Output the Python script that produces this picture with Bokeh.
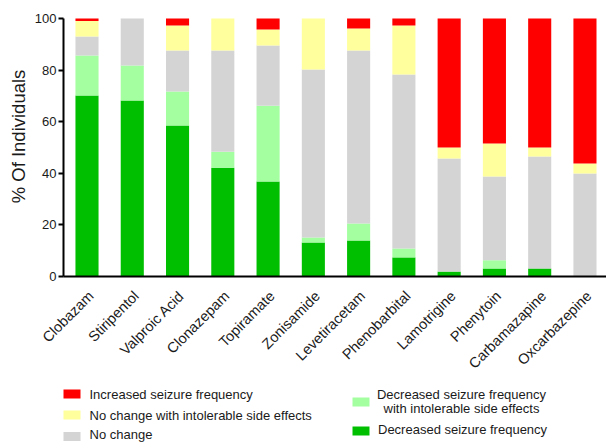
import math
from bokeh.plotting import figure
from bokeh.models import Range1d, FixedTicker, ColumnDataSource
from bokeh.embed import file_html
from bokeh.resources import INLINE
from bokeh.core.properties import value

drugs = ["Clobazam", "Stiripentol", "Valproic Acid", "Clonazepam", "Topiramate",
         "Zonisamide", "Levetiracetam", "Phenobarbital", "Lamotrigine", "Phenytoin",
         "Carbamazapine", "Oxcarbazepine"]
decreased = [70.2, 68.2, 58.5, 42.2, 36.8, 13.2, 14.0, 7.4, 1.9, 3.1, 3.1, 0.0]
decreased_side = [15.5, 13.6, 13.2, 6.2, 29.4, 1.9, 6.5, 3.5, 0.0, 3.2, 0.0, 0.0]
no_change = [7.3, 18.2, 15.9, 39.2, 23.3, 65.1, 67.1, 67.4, 43.8, 32.5, 43.4, 39.9]
no_change_side = [6.0, 0.0, 9.7, 12.4, 6.2, 19.8, 8.5, 19.0, 4.3, 12.8, 3.5, 3.9]
increased = [1.0, 0.0, 2.7, 0.0, 4.3, 0.0, 3.9, 2.7, 50.0, 48.4, 50.0, 56.2]
y_ticks = [0, 20, 40, 60, 80, 100]
y_title = "% Of Individuals"

series = ["decreased", "decreased_side", "no_change", "no_change_side", "increased"]
colors = ["#00BE00", "#A3FFA0", "#D4D4D4", "#FFFF9E", "#FF0000"]
labels = ["Decreased seizure frequency",
          "Decreased seizure frequency\nwith intolerable side effects",
          "No change", "No change with intolerable side effects",
          "Increased seizure frequency"]

xs = list(range(1, len(drugs) + 1))
src = ColumnDataSource(dict(x=xs, decreased=decreased, decreased_side=decreased_side,
                            no_change=no_change, no_change_side=no_change_side,
                            increased=increased))

FONT = "Liberation Sans"
TXT = "#1a1a1a"

# The frame fills the whole canvas; the value axes are drawn at fixed positions.
# data x=1 -> px 86.5, 45.27 px per category; y: 0 -> px 276, 100 -> px 18
X0, X1 = -0.9108, 12.4757
Y0, Y1 = -64.34, 106.98
XL = 0.4809   # left edge of the value area

p = figure(width=606, height=442, output_backend="svg", toolbar_location=None,
           x_range=Range1d(X0, X1), y_range=Range1d(Y0, Y1),
           min_border_left=0, min_border_right=0, min_border_top=0, min_border_bottom=0)
p.extra_x_ranges = {"px": Range1d(0, 606)}
p.extra_y_ranges = {"px": Range1d(442, 0)}
p.outline_line_color = None
p.xgrid.grid_line_color = None
p.ygrid.grid_line_color = None

p.vbar_stack(series, x="x", width=0.51, source=src, color=colors, line_color=None)

p.yaxis.fixed_location = XL
p.yaxis.bounds = (0, 100)
p.yaxis.ticker = FixedTicker(ticks=y_ticks)
p.yaxis.minor_tick_line_color = None
p.yaxis.major_tick_in = 0
p.yaxis.major_tick_out = 5
p.yaxis.axis_line_width = 2
p.yaxis.major_tick_line_width = 2
p.yaxis.axis_line_color = "black"
p.yaxis.major_tick_line_color = "black"
p.yaxis.major_label_text_font = FONT
p.yaxis.major_label_text_font_size = "13px"
p.yaxis.major_label_text_color = TXT
p.yaxis.major_label_standoff = 2

p.xaxis.fixed_location = 0
p.xaxis.bounds = (XL, X1)
p.xaxis.ticker = FixedTicker(ticks=[])
p.xaxis.minor_tick_line_color = None
p.xaxis.major_tick_out = 0
p.xaxis.major_label_standoff = 0
p.xaxis.axis_line_width = 2
p.xaxis.axis_line_color = "black"

# y-axis title
p.text(x=[18], y=[136], text=[y_title], x_range_name="px", y_range_name="px",
       angle=math.pi / 2, text_align="center", text_baseline="middle",
       text_font=value(FONT), text_font_size="18.5px", text_color=TXT)

# category labels, rotated, right end at each bar
lab_src = ColumnDataSource(dict(x=xs, name=drugs, ly=[293] * len(xs)))
p.text(x="x", y="ly", text="name", source=lab_src, y_range_name="px",
       x_offset=4, angle=math.pi / 4, text_align="right", text_baseline="alphabetic",
       text_font=value(FONT), text_font_size="14.5px", text_color=TXT)

# legend (page pixel coordinates)
sw_x = [360.5, 360.5, 71.5, 71.5, 71.5]
sw_y = [430.5, 401.5, 436.0, 414.5, 393.5]
p.rect(x=sw_x, y=sw_y, width=17, height=9, color=colors, line_color=None,
       x_range_name="px", y_range_name="px")

tstyle = dict(text_font=value(FONT), text_font_size="13px", text_color=TXT,
              text_baseline="middle", x_range_name="px", y_range_name="px")
p.text(x=[89, 89, 89], y=[394, 415, 434], text=[labels[4], labels[3], labels[2]],
       text_align="left", **tstyle)
p.text(x=[461, 461], y=[394, 408], text=labels[1].split("\n"),
       text_align="center", **tstyle)
p.text(x=[377.5], y=[429], text=[labels[0]], text_align="left", **tstyle)

open("out.html", "w").write(file_html(p, INLINE))
